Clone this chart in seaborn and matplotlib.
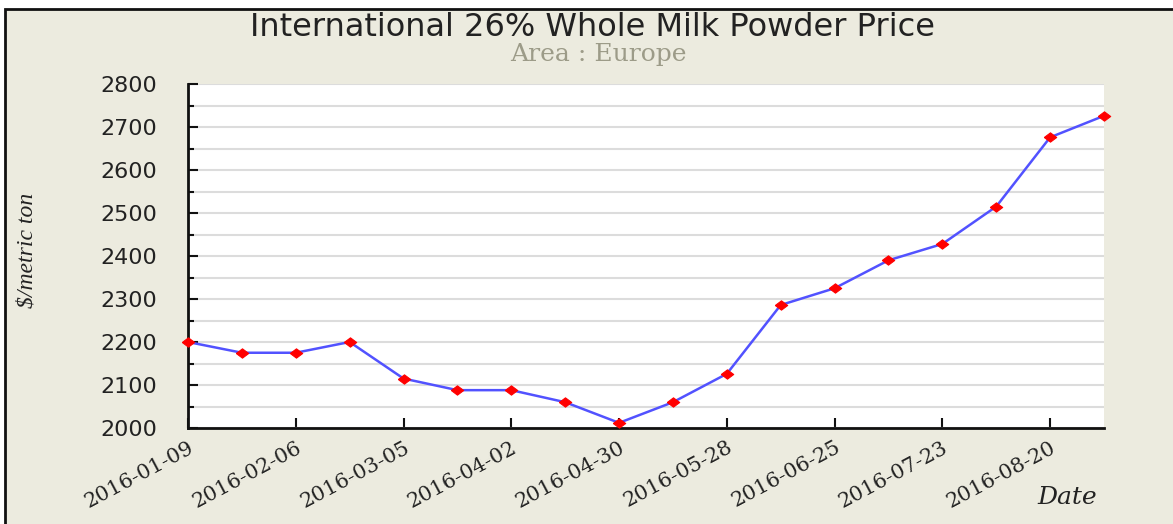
import matplotlib
matplotlib.use("Agg")
import matplotlib.pyplot as plt
from matplotlib.ticker import MultipleLocator
from matplotlib.patches import Rectangle
import seaborn as sns
import pandas as pd

# ---- data ----
dates = ["2016-01-09", "2016-01-23", "2016-02-06", "2016-02-20", "2016-03-05",
         "2016-03-19", "2016-04-02", "2016-04-16", "2016-04-30", "2016-05-14",
         "2016-05-28", "2016-06-11", "2016-06-25", "2016-07-09", "2016-07-23",
         "2016-08-06", "2016-08-20", "2016-09-03"]
prices = [2200, 2175, 2175, 2200, 2115, 2088, 2088, 2060, 2012, 2060,
          2126, 2286, 2325, 2390, 2428, 2515, 2676, 2726]
tick_labels = ["2016-01-09", "2016-02-06", "2016-03-05", "2016-04-02", "2016-04-30",
               "2016-05-28", "2016-06-25", "2016-07-23", "2016-08-20"]
title = "International 26% Whole Milk Powder Price"
subtitle = "Area : Europe"
y_label = "$/metric ton"
x_label = "Date"

df = pd.DataFrame({"date": pd.to_datetime(dates), "price": prices})

sns.set_theme(style="white")
plt.rcParams['font.family'] = ['DejaVu Sans']

W, H = 1173, 524
fig = plt.figure(figsize=(W / 100, H / 100), dpi=100)
fig.patch.set_facecolor("white")
bg = "#ECEBDF"
fig.patches.append(Rectangle((5 / W, -0.1), 1.2, (H - 9) / H + 0.1,
                             transform=fig.transFigure, facecolor=bg,
                             edgecolor="#111111", linewidth=2, zorder=-10))

ax = fig.add_axes([188 / W, (H - 428) / H, (1104 - 188) / W, (428 - 84) / H])
ax.set_facecolor("white")

diamond = [(-1, 0), (0, 0.75), (1, 0), (0, -0.75), (-1, 0)]
sns.lineplot(data=df, x="date", y="price", ax=ax, color="#5252FF", linewidth=1.8,
             marker=diamond, markersize=9, markerfacecolor="#FF0000",
             markeredgecolor="#FF0000", clip_on=False, zorder=5)

ax.set_xlim(df["date"].iloc[0], df["date"].iloc[-1])
ax.set_ylim(2000, 2800)
ax.yaxis.set_major_locator(MultipleLocator(100))
ax.yaxis.set_minor_locator(MultipleLocator(50))
ax.set_xticks(pd.to_datetime(tick_labels))
ax.set_xticklabels(tick_labels, rotation=28, ha="right", rotation_mode="anchor",
                   family="DejaVu Serif", fontsize=15, color="#222222")
for lbl in ax.get_yticklabels():
    lbl.set_fontsize(16)
    lbl.set_color("#222222")

ax.grid(True, which="both", axis="y", color="#DCDCDC", linewidth=1.5)
ax.grid(False, axis="x")
for s in ["top", "right"]:
    ax.spines[s].set_visible(False)
for s in ["left", "bottom"]:
    ax.spines[s].set_color("#111111")
    ax.spines[s].set_linewidth(2)
ax.tick_params(axis="y", which="major", direction="in", length=7, width=1.5,
               color="#111111", pad=22, left=True)
ax.tick_params(axis="y", which="minor", direction="in", length=4, width=1.5,
               color="#111111", left=True)
ax.tick_params(axis="x", which="major", direction="in", length=7, width=1.5,
               color="#111111", pad=7, bottom=True)
ax.set_xlabel("")
ax.set_ylabel("")

fig.text(593 / W, 1 - 27 / H, title, ha="center", va="center", fontsize=23,
         color="#222222", family="DejaVu Sans")
fig.text(598 / W, 1 - 54 / H, subtitle, ha="center", va="center", fontsize=18,
         color="#9C9B88", family="DejaVu Serif")
fig.text(27 / W, 1 - 250 / H, y_label, ha="center", va="center", rotation=90,
         fontsize=17, style="italic", color="#222222", family="Liberation Serif")
fig.text(1067 / W, 1 - 498 / H, x_label, ha="center", va="center", fontsize=18,
         style="italic", color="#222222", family="DejaVu Serif")

fig.savefig("out.png", dpi=100)
